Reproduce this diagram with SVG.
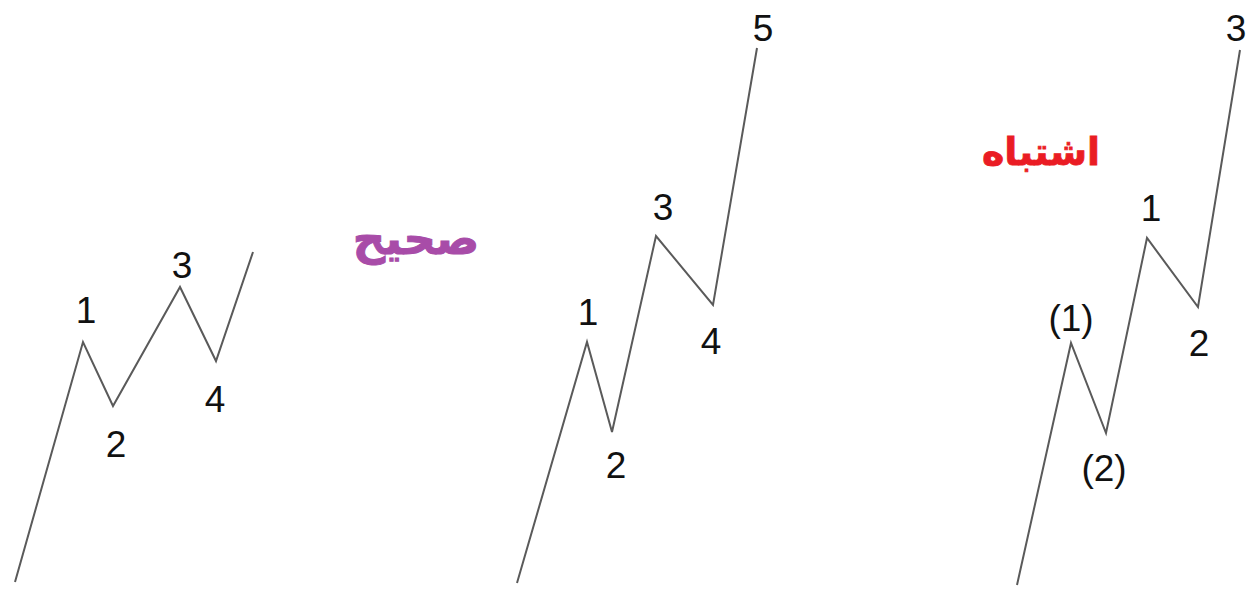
<svg xmlns="http://www.w3.org/2000/svg" width="1249" height="589" viewBox="0 0 1249 589">
<style>
.w{fill:none;stroke:#5a5a5a;stroke-width:2;stroke-linejoin:miter}
.n{font-family:"Liberation Sans",Arial,sans-serif;font-size:37px;fill:#111;text-anchor:middle}
.fa{font-family:"DejaVu Sans",sans-serif;font-weight:bold;text-anchor:middle}
</style>
<rect width="1249" height="589" fill="#ffffff"/>
<g id="connectors">
<polyline class="w" points="15,582 83,342 113,406 180,287 216,361 253,252"/>
<polyline class="w" points="517,583 587,342 612,432 656,236 713,305 757,48"/>
<polyline class="w" points="1017,585 1071,343 1106,433 1147,238 1198,307 1240,50"/>
</g>
<g id="wave-left">
<text class="n" x="86" y="323">1</text>
<text class="n" x="116" y="457">2</text>
<text class="n" x="182" y="278">3</text>
<text class="n" x="215" y="412">4</text>
</g>
<g id="label-correct">
<text class="fa" x="416" y="254" font-size="45" fill="#a84ca8" stroke="#a84ca8" stroke-width="1">صحیح</text>
</g>
<g id="wave-middle">
<text class="n" x="588" y="325">1</text>
<text class="n" x="616" y="478">2</text>
<text class="n" x="663" y="220">3</text>
<text class="n" x="711" y="354">4</text>
<text class="n" x="763" y="41">5</text>
</g>
<g id="label-wrong">
<text class="fa" x="1041" y="165" font-size="38" fill="#ea1c24" stroke="#ea1c24" stroke-width="0.8">اشتباه</text>
</g>
<g id="wave-right">
<text class="n" x="1071" y="331">(1)</text>
<text class="n" x="1104" y="481">(2)</text>
<text class="n" x="1151" y="221">1</text>
<text class="n" x="1199" y="356">2</text>
<text class="n" x="1236" y="41">3</text>
</g>
</svg>
